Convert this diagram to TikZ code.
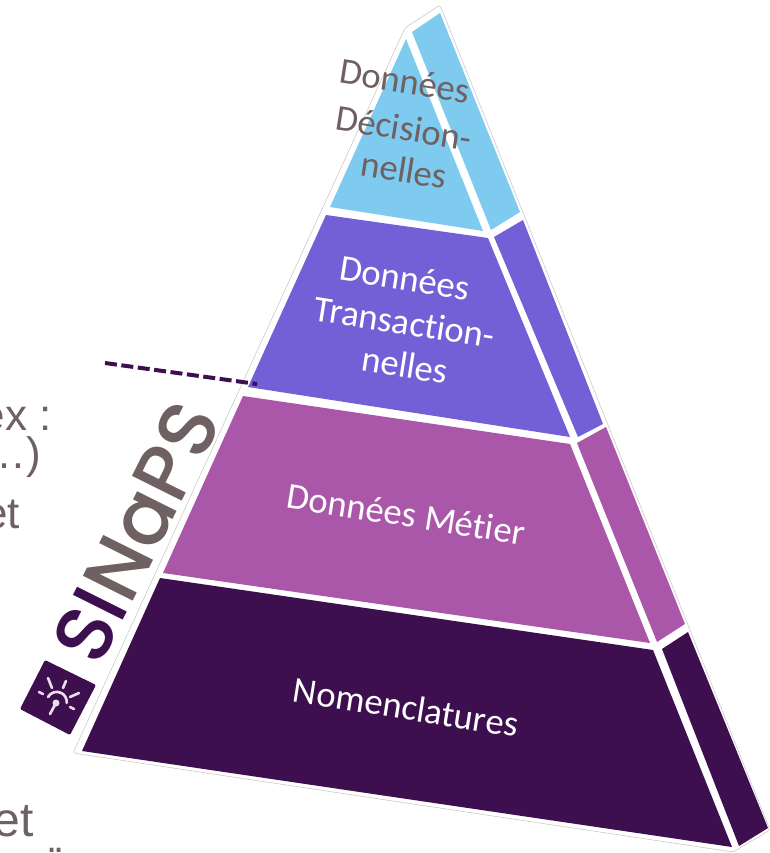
\documentclass[tikz,border=0pt]{standalone}
\usepackage{xcolor}
\usepackage{fontspec}
\setmainfont{Carlito}[Ligatures=CommonOff]
\newfontfamily\logofont{Poppins Medium}
\newfontfamily\slidefont{Liberation Sans}
\definecolor{decisionblue}{HTML}{7ECBEF}
\definecolor{transviolet}{HTML}{7460D6}
\definecolor{metiermauve}{HTML}{AA57A9}
\definecolor{nomendark}{HTML}{3E0F4F}
\definecolor{greytext}{HTML}{6F6062}
\definecolor{bulbpink}{HTML}{EBDDEB}

\begin{document}
\begin{tikzpicture}[x=0.75pt, y=-0.75pt,
                layer-text/.style={rotate=-9, font=\fontsize{27.5}{33}\selectfont, inner sep=0pt},
                slide-text/.style={anchor=base east, text=greytext, inner sep=0pt, font=\slidefont\fontsize{33}{38}\selectfont},
                ray/.style={draw=bulbpink, line width=2pt, line cap=round}]
                \useasboundingbox (0,0) rectangle (770,853);
                \draw [fill=white, draw=gray!45, rounded corners=2pt] (405,28) -- (440,5) -- (770,830) -- (733,852) -- (73,753) -- cycle;
                \fill [decisionblue] (406,39) -- (483,231) -- (330,207) -- cycle;
                \fill [decisionblue] (412,32) -- (440,13) -- (520,212) -- (491,230) -- cycle;
                \fill [transviolet] (326,215) -- (488,238) -- (570,437) -- (248,387) -- cycle;
                \fill [transviolet] (494,237) -- (523,220) -- (603,424) -- (578,437) -- cycle;
                \fill [metiermauve] (243,396) -- (570,444) -- (650,643) -- (163,573) -- cycle;
                \fill [metiermauve] (577,443) -- (606,427) -- (685,624) -- (657,642) -- cycle;
                \fill [nomendark] (160,578) -- (653,650) -- (732,847) -- (82,751) -- cycle;
                \fill [nomendark] (662,649) -- (688,632) -- (768,828) -- (739,846) -- cycle;
                \node [layer-text, text=greytext] (decision-a) at (405,81) {Données};
                \node [layer-text, text=greytext] (decision-b) at (404,128) {Décision-};
                \node [layer-text, text=greytext] (decision-c) at (404,170) {nelles};
                \node [layer-text, text=white] (transaction-a) at (405,278) {Données};
                \node [layer-text, text=white] (transaction-b) at (405,322) {Transaction-};
                \node [layer-text, text=white] (transaction-c) at (405,365) {nelles};
                \node [layer-text, text=white] (metier) at (406,514) {Données Métier};
                \node [layer-text, text=white] (nomenclature) at (406,707) {Nomenclatures};
                \coordinate (dash-start) at (105,363);
                \coordinate (dash-end) at (257,384);
                \draw [nomendark, line width=3pt, dash pattern=on 9pt off 3.4pt] (dash-start) -- (dash-end);
                \node [slide-text] (ex) at (52,430) {ex :};
                \node [slide-text] (paren) at (41,468) {…)};
                \node [slide-text] (et) at (20,528) {et};
                \node [slide-text, font=\slidefont\fontsize{36}{40}\selectfont] (et2) at (34,836) {et};
                \node [slide-text, font=\slidefont\fontsize{30}{34}\selectfont] (dots) at (65,852) {.\kern-0.1em.};
                \node [font=\logofont\fontsize{60}{60}\selectfont, rotate=63.5, inner sep=0pt] (logo) at (136,532)
                    {\textcolor{nomendark}{SI}\textcolor{greytext}{NaPS}};
                \fill [nomendark, rounded corners=1pt] (45,660) -- (96,685) -- (70,735) -- (20,709) -- cycle;
                \draw [ray] (48,678) -- (52,688);
                \draw [ray] (66,681) -- (63,688);
                \draw [ray] (79,693) -- (70,697);
                \draw [ray] (39,692) -- (43,694);
                \draw [ray] (70,707) -- (74,709);
                \draw [ray] (48,697) arc (209:366:10);
                \draw [ray] (56,703) -- (50,714);
                \fill [bulbpink] (56,703) circle (3.5);
            \end{tikzpicture}
\end{document}
